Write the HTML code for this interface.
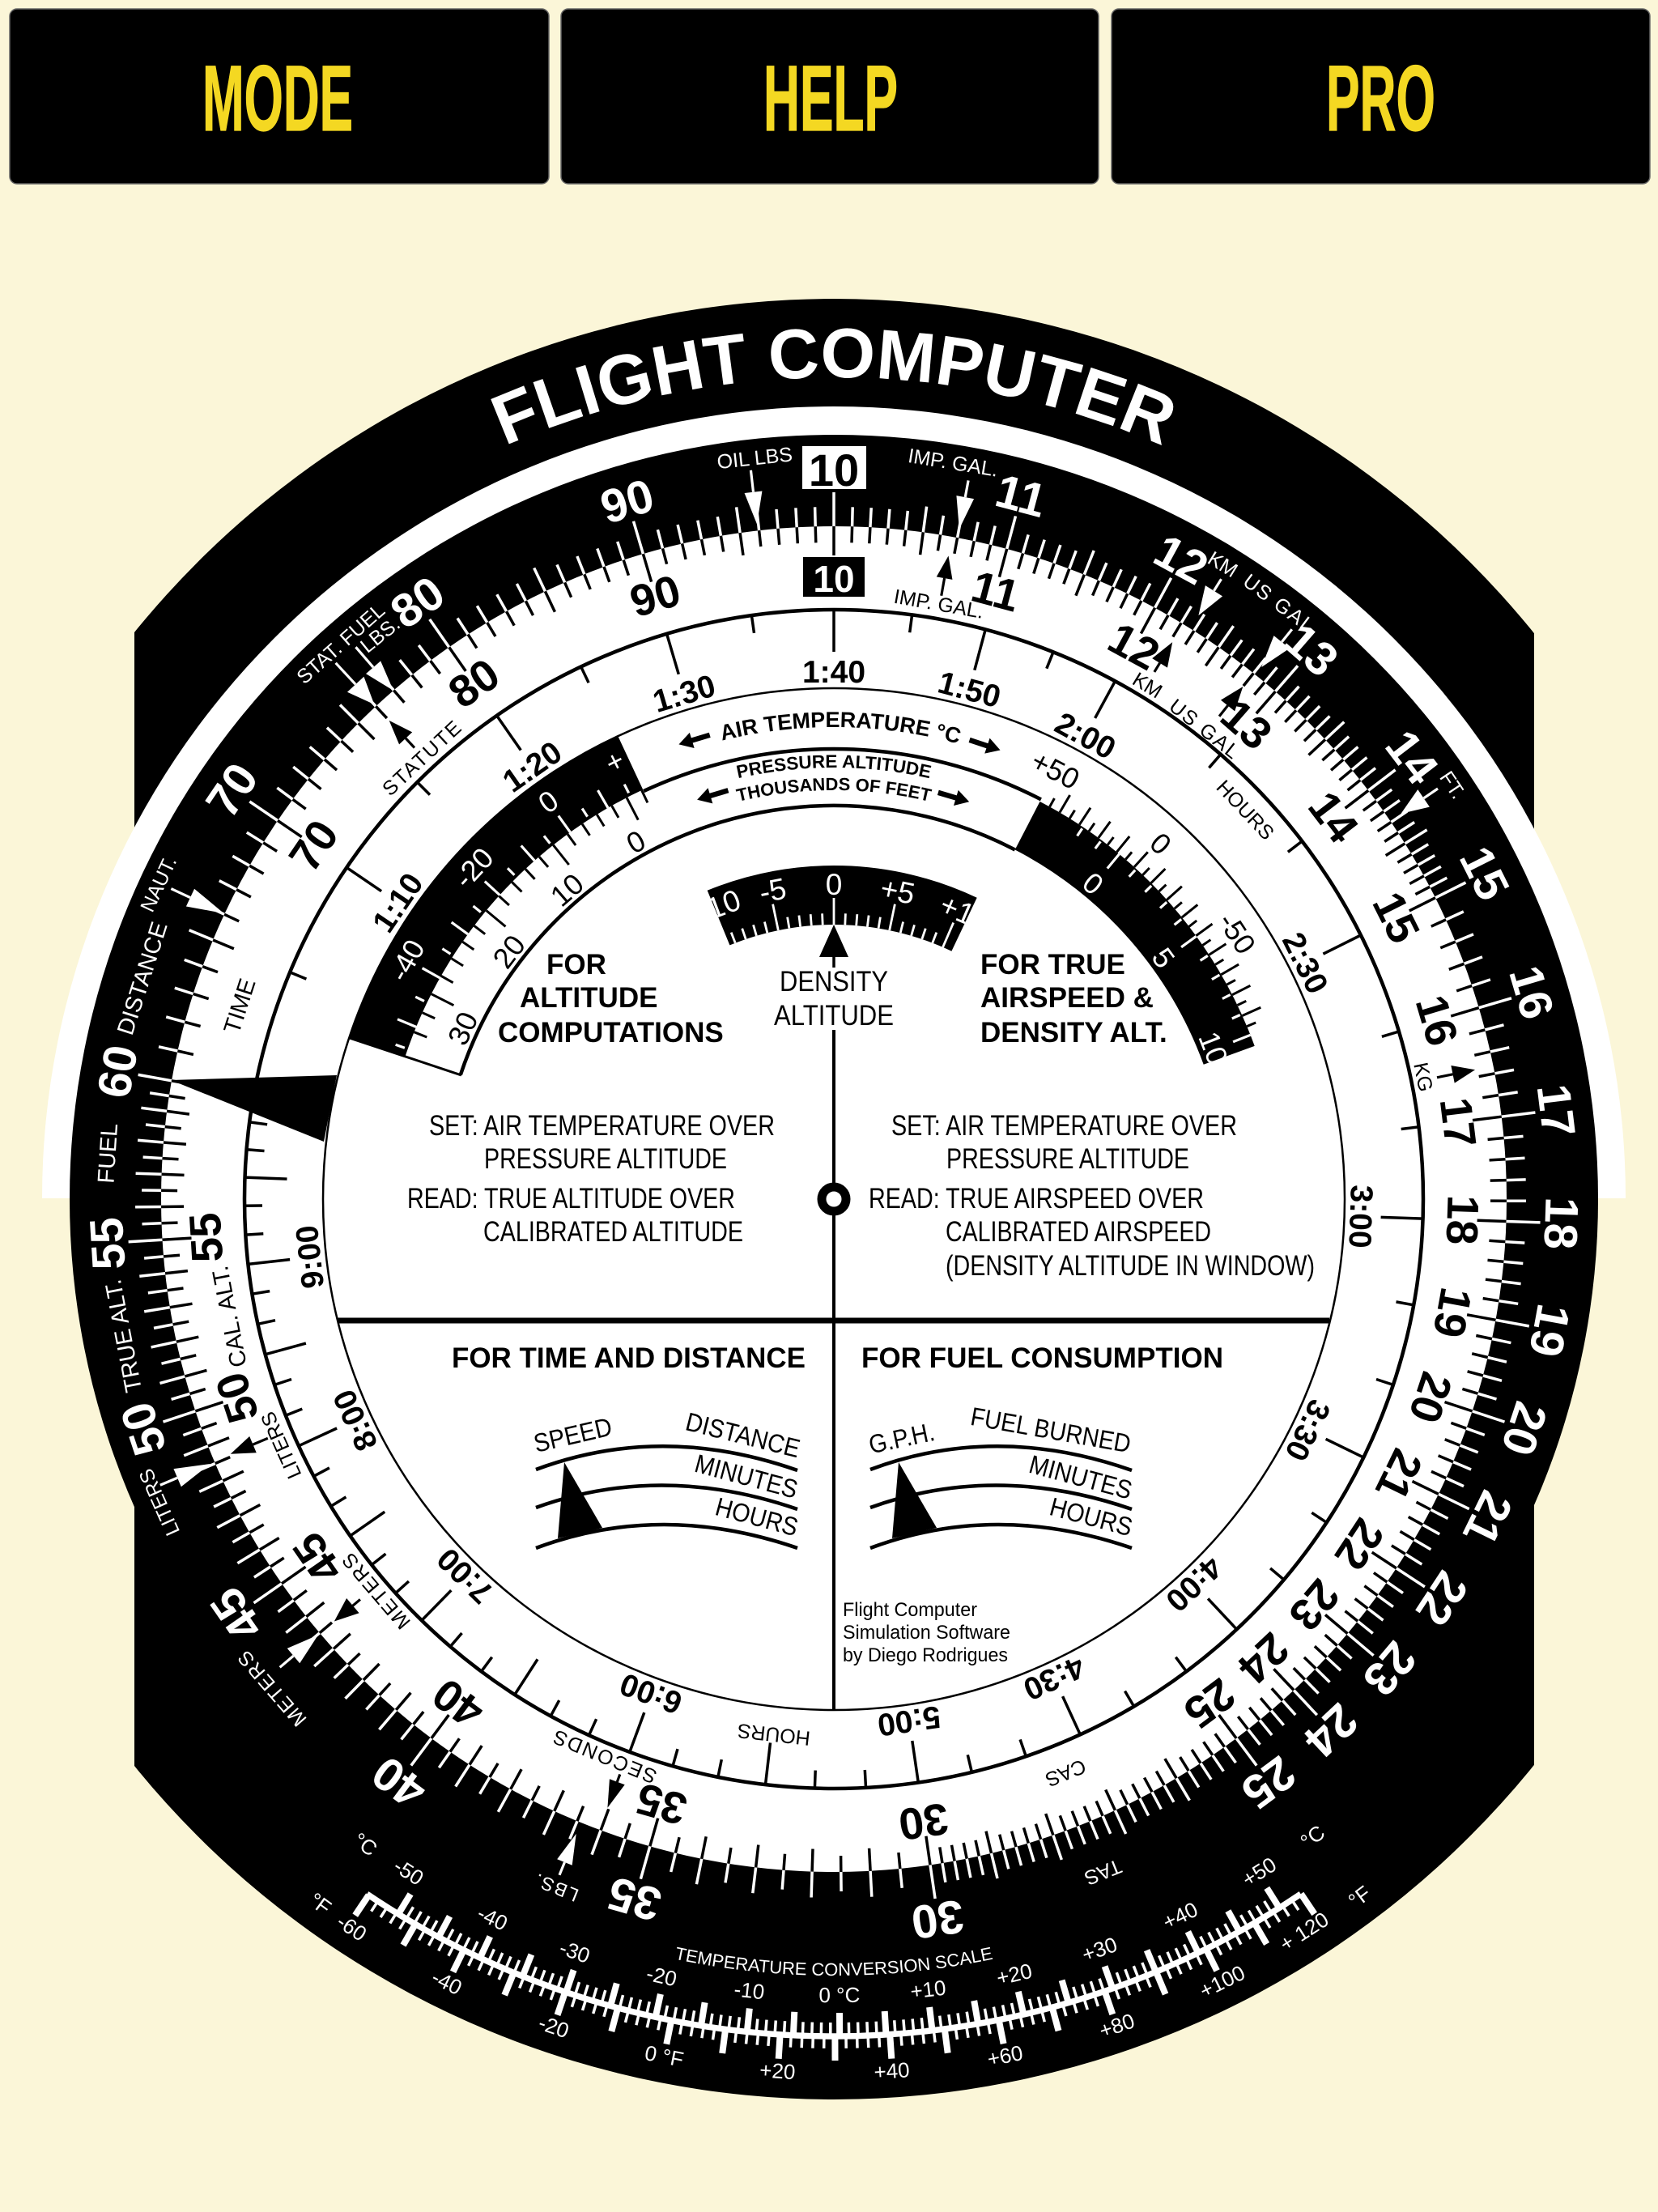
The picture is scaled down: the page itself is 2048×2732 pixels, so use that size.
<!DOCTYPE html>
<html>
<head>
<meta charset="utf-8">
<title>Flight Computer</title>
<style>
html,body{margin:0;padding:0;background:#FBF6D8;}
svg{display:block;font-family:"Liberation Sans",sans-serif;}
text{text-anchor:middle;}
.w{fill:#fff}.k{fill:#000}
.b{font-weight:bold}
.s{font-size:25px}
.m{font-size:29px}
.st{text-anchor:start}
.btn{font-weight:bold;font-size:115px;fill:#F4D822;stroke:#F4D822;stroke-width:1.2px;text-anchor:start}
</style>
</head>
<body>
<svg id="s" xmlns="http://www.w3.org/2000/svg" width="2048" height="2732" viewBox="0 0 2048 2732">
<defs>
<clipPath id="baseclip"><rect x="166" y="0" width="1729" height="2732"/></clipPath>
<clipPath id="rb"><path id="rbp" d=""/></clipPath>
<clipPath id="dw"><path id="dwp" d=""/></clipPath>
<path id="pT" d="M377.6 703.5 A1015 1015 0 0 1 1682.4 703.5"/>
<path id="pA" d="M655.3 1034.4 A583 583 0 0 1 1404.7 1034.4"/>
<path id="pP" d="M687.4 1072.7 A533 533 0 0 1 1372.6 1072.7"/>
<path id="pF" d="M705.4 1094.1 A505 505 0 0 1 1354.6 1094.1"/>
<path id="pC" d="M550.5 2311.5 A959 959 0 0 0 1509.5 2311.5"/>
</defs>
<rect width="2048" height="2732" fill="#FBF6D8"/>

<!-- buttons -->
<rect x="12" y="11" width="666" height="216" rx="9" fill="#000" stroke="#666" stroke-width="1.5"/>
<rect x="693" y="11" width="664" height="216" rx="9" fill="#000" stroke="#666" stroke-width="1.5"/>
<rect x="1373" y="11" width="665" height="216" rx="9" fill="#000" stroke="#666" stroke-width="1.5"/>
<text class="btn" x="250" y="161" textLength="186" lengthAdjust="spacingAndGlyphs">MODE</text>
<text class="btn" x="943" y="161" textLength="166" lengthAdjust="spacingAndGlyphs">HELP</text>
<text class="btn" x="1638" y="161" textLength="135" lengthAdjust="spacingAndGlyphs">PRO</text>

<!-- body -->
<circle cx="1030" cy="1481" r="1112" fill="#000" clip-path="url(#baseclip)"/>
<path d="M52 1480 A978 978 0 0 1 2008 1480 Z" fill="#fff"/>
<circle cx="1030" cy="1481" r="944" fill="#000"/>
<circle cx="1030" cy="1481" r="831" fill="#fff"/>
<circle cx="1030" cy="1481" r="728" fill="#fff" stroke="#000" stroke-width="4.5"/>
<circle cx="1030" cy="1481" r="631" fill="#fff" stroke="#000" stroke-width="2.5"/>
<g id="bands"></g>
<g id="ticks"></g>

<!-- index triangle -->
<path d="M211 1334 L416 1328 L400 1410 Z" fill="#000"/>

<!-- title -->
<text class="w b" font-size="87"><textPath href="#pT" startOffset="50%">FLIGHT COMPUTER</textPath></text>

<!-- box labels -->
<rect x="991" y="551" width="79" height="53" fill="#fff"/>
<rect x="992" y="688" width="76" height="49" fill="#000"/>
<text class="k b" x="1030" y="600" font-size="56">10</text>
<text class="w b" x="1030" y="731" font-size="46">10</text>

<g transform="translate(1030 1481)">
<!-- outer numbers -->
<g class="w b" font-size="58">
<text transform="rotate(14.9)" y="-879">11</text>
<text transform="rotate(28.5)" y="-879">12</text>
<text transform="rotate(41)" y="-879">13</text>
<text transform="rotate(52.6)" y="-879">14</text>
<text transform="rotate(63.4)" y="-879">15</text>
<text transform="rotate(73.5)" y="-879">16</text>
<text transform="rotate(83)" y="-879">17</text>
<text transform="rotate(91.9)" y="-879">18</text>
<text transform="rotate(100.4)" y="-879">19</text>
<text transform="rotate(108.4)" y="-879">20</text>
<text transform="rotate(116)" y="-879">21</text>
<text transform="rotate(123.3)" y="-879">22</text>
<text transform="rotate(130.2)" y="-879">23</text>
<text transform="rotate(136.9)" y="-879">24</text>
<text transform="rotate(143.3)" y="-879">25</text>
<text transform="rotate(171.8)" y="-879">30</text>
<text transform="rotate(195.9)" y="-879">35</text>
<text transform="rotate(216.7)" y="-879">40</text>
<text transform="rotate(235.2)" y="-879">45</text>
<text transform="rotate(251.6)" y="-879">50</text>
<text transform="rotate(266.5)" y="-879">55</text>
<text transform="rotate(280.1)" y="-879">60</text>
<text transform="rotate(304.2)" y="-879">70</text>
<text transform="rotate(325.1)" y="-879">80</text>
<text transform="rotate(343.5)" y="-879">90</text>
</g>
<!-- inner numbers -->
<g class="k b" font-size="55">
<text transform="rotate(14.9)" y="-758">11</text>
<text transform="rotate(28.5)" y="-758">12</text>
<text transform="rotate(41)" y="-758">13</text>
<text transform="rotate(52.6)" y="-758">14</text>
<text transform="rotate(63.4)" y="-758">15</text>
<text transform="rotate(73.5)" y="-758">16</text>
<text transform="rotate(83)" y="-758">17</text>
<text transform="rotate(91.9)" y="-758">18</text>
<text transform="rotate(100.4)" y="-758">19</text>
<text transform="rotate(108.4)" y="-758">20</text>
<text transform="rotate(116)" y="-758">21</text>
<text transform="rotate(123.3)" y="-758">22</text>
<text transform="rotate(130.2)" y="-758">23</text>
<text transform="rotate(136.9)" y="-758">24</text>
<text transform="rotate(143.3)" y="-758">25</text>
<text transform="rotate(171.8)" y="-758">30</text>
<text transform="rotate(195.9)" y="-758">35</text>
<text transform="rotate(216.7)" y="-758">40</text>
<text transform="rotate(235.2)" y="-758">45</text>
<text transform="rotate(251.6)" y="-758">50</text>
<text transform="rotate(266.5)" y="-758">55</text>
<text transform="rotate(304.2)" y="-758">70</text>
<text transform="rotate(325.1)" y="-758">80</text>
<text transform="rotate(343.5)" y="-758">90</text>
</g>
<!-- time labels -->
<g class="k b" font-size="39">
<text transform="rotate(304.2)" y="-638">1:10</text>
<text transform="rotate(325.1)" y="-638">1:20</text>
<text transform="rotate(343.5)" y="-638">1:30</text>
<text y="-638">1:40</text>
<text transform="rotate(14.9)" y="-638">1:50</text>
<text transform="rotate(28.5)" y="-638">2:00</text>
<text transform="rotate(63.4)" y="-638">2:30</text>
<text transform="rotate(91.9)" y="-638">3:00</text>
<text transform="rotate(116)" y="-638">3:30</text>
<text transform="rotate(136.9)" y="-638">4:00</text>
<text transform="rotate(155.3)" y="-638">4:30</text>
<text transform="rotate(171.8)" y="-638">5:00</text>
<text transform="rotate(200.3)" y="-638">6:00</text>
<text transform="rotate(224.4)" y="-638">7:00</text>
<text transform="rotate(245.2)" y="-638">8:00</text>
<text transform="rotate(263.7)" y="-638">9:00</text>
</g>
<!-- outer ring small labels -->
<g class="w s">
<text transform="rotate(-6.1)" y="-912">OIL LBS</text>
<text transform="rotate(9.2)" y="-913">IMP. GAL.</text>
<text transform="rotate(31.5)" y="-911">KM</text>
<text transform="rotate(36.8)" y="-910" letter-spacing="2">US GAL</text>
<text transform="rotate(56.2)" y="-911">FT.</text>
<text transform="rotate(-41.6)" y="-909">STAT. FUEL</text>
<text transform="rotate(-38.8)" y="-886">LBS.</text>
<text transform="rotate(-65)" y="-912">NAUT.</text>
<text class="m" transform="rotate(-72.3)" y="-887">DISTANCE</text>
<text class="m" transform="rotate(-86.4)" y="-889">FUEL</text>
<text class="m" transform="rotate(-100.9)" y="-884">TRUE ALT.</text>
<text transform="rotate(-114.2)" y="-905">LITERS</text>
<text transform="rotate(-131)" y="-912" letter-spacing="2">METERS</text>
<text transform="rotate(-158)" y="-909" letter-spacing="2" font-size="23">LBS.</text>
<text transform="rotate(158.2)" y="-887">TAS</text>
</g>
<!-- inner ring small labels -->
<g class="k s">
<text transform="rotate(10)" y="-738">IMP. GAL.</text>
<text transform="rotate(31.4)" y="-735">KM</text>
<text transform="rotate(38.3)" y="-731" letter-spacing="2">US GAL</text>
<text transform="rotate(78.3)" y="-735">KG</text>
<text transform="rotate(46.6)" y="-691">HOURS</text>
<text transform="rotate(-43)" y="-737" letter-spacing="2">STATUTE</text>
<text class="m" transform="rotate(-72)" y="-762">TIME</text>
<text class="m" transform="rotate(-101)" y="-751">CAL. ALT.</text>
<text transform="rotate(-114)" y="-739">LITERS</text>
<text transform="rotate(-130.5)" y="-736" letter-spacing="2">METERS</text>
<text transform="rotate(-157.6)" y="-736" letter-spacing="2">SECONDS</text>
<text transform="rotate(-173.6)" y="-657">HOURS</text>
<text transform="rotate(158)" y="-756">CAS</text>
</g>
<!-- altitude window labels -->
<g class="k" font-size="36">
<text transform="rotate(331)" y="-492">0</text>
<text transform="rotate(319.2)" y="-492">10</text>
<text transform="rotate(307.3)" y="-492">20</text>
<text transform="rotate(294.7)" y="-492">30</text>
<text transform="rotate(27.3)" y="-584">+50</text>
<text transform="rotate(42.6)" y="-584">0</text>
<text transform="rotate(56.6)" y="-584">-50</text>
</g>
<g class="w" font-size="36">
<text transform="rotate(333.4)" y="-592">+</text>
<text transform="rotate(324.3)" y="-592">0</text>
<text transform="rotate(312.6)" y="-592">-20</text>
<text transform="rotate(299.2)" y="-592">-40</text>
<text transform="rotate(39.4)" y="-492">0</text>
<text transform="rotate(53.8)" y="-492">5</text>
</g>
</g>
<g clip-path="url(#rb)"><text class="w" font-size="36" transform="translate(1030 1481) rotate(68.3)" y="-492">10</text></g>
<g clip-path="url(#dw)" class="w" font-size="37">
<g transform="translate(1030 1481)">
<text transform="rotate(-20.5)" y="-376">10</text>
<text transform="rotate(-11.2)" y="-376">-5</text>
<text y="-376">0</text>
<text transform="rotate(11.7)" y="-376">+5</text>
<text transform="rotate(23.1)" y="-376">+1</text>
</g>
</g>

<!-- curved band captions -->
<text class="k b" font-size="27"><textPath href="#pA" startOffset="51%">AIR TEMPERATURE °C</textPath></text>
<text class="k b" font-size="22.5"><textPath href="#pP" startOffset="50%">PRESSURE ALTITUDE</textPath></text>
<text class="k b" font-size="22"><textPath href="#pF" startOffset="50%">THOUSANDS OF FEET</textPath></text>

<!-- density altitude -->
<path d="M1030 1142 L1048 1182 L1012 1182 Z" fill="#000"/>
<line x1="1030" y1="1180" x2="1030" y2="1195" stroke="#000" stroke-width="3.5"/>
<line x1="1030" y1="1272" x2="1030" y2="2112" stroke="#000" stroke-width="4"/>
<text class="k" x="1030" y="1224" font-size="35" textLength="134" lengthAdjust="spacingAndGlyphs">DENSITY</text>
<text class="k" x="1030" y="1266" font-size="35" textLength="148" lengthAdjust="spacingAndGlyphs">ALTITUDE</text>
<circle cx="1030" cy="1481" r="15" fill="#fff" stroke="#000" stroke-width="11"/>
<line x1="417" y1="1631" x2="1642" y2="1631" stroke="#000" stroke-width="7"/>

<!-- headings -->
<g class="k b st" font-size="35">
<text class="st" x="675" y="1203">FOR</text>
<text class="st" x="642" y="1244">ALTITUDE</text>
<text class="st" x="615" y="1287">COMPUTATIONS</text>
<text class="st" x="1211" y="1203">FOR TRUE</text>
<text class="st" x="1211" y="1244">AIRSPEED &amp;</text>
<text class="st" x="1211" y="1287">DENSITY ALT.</text>
<text class="st" x="558" y="1689" textLength="437" lengthAdjust="spacingAndGlyphs">FOR TIME AND DISTANCE</text>
<text class="st" x="1064" y="1689" textLength="447" lengthAdjust="spacingAndGlyphs">FOR FUEL CONSUMPTION</text>
</g>
<g class="k" font-size="35">
<text class="st" x="530" y="1402" textLength="427" lengthAdjust="spacingAndGlyphs">SET: AIR TEMPERATURE OVER</text>
<text class="st" x="598" y="1443" textLength="300" lengthAdjust="spacingAndGlyphs">PRESSURE ALTITUDE</text>
<text class="st" x="503" y="1492" textLength="405" lengthAdjust="spacingAndGlyphs">READ: TRUE ALTITUDE OVER</text>
<text class="st" x="597" y="1533" textLength="321" lengthAdjust="spacingAndGlyphs">CALIBRATED ALTITUDE</text>
<text class="st" x="1101" y="1402" textLength="427" lengthAdjust="spacingAndGlyphs">SET: AIR TEMPERATURE OVER</text>
<text class="st" x="1169" y="1443" textLength="300" lengthAdjust="spacingAndGlyphs">PRESSURE ALTITUDE</text>
<text class="st" x="1073" y="1492" textLength="414" lengthAdjust="spacingAndGlyphs">READ: TRUE AIRSPEED OVER</text>
<text class="st" x="1168" y="1533" textLength="328" lengthAdjust="spacingAndGlyphs">CALIBRATED AIRSPEED</text>
<text class="st" x="1168" y="1575" textLength="456" lengthAdjust="spacingAndGlyphs">(DENSITY ALTITUDE IN WINDOW)</text>
</g>

<!-- small slide diagrams -->
<g fill="none" stroke="#000" stroke-width="4.5">
<path d="M662 1815 Q817 1757 985 1816"/>
<path d="M662 1862 Q817 1806 985 1864"/>
<path d="M662 1912 Q817 1854 985 1912"/>
<path d="M1075 1815 Q1230 1757 1398 1816"/>
<path d="M1075 1862 Q1230 1806 1398 1864"/>
<path d="M1075 1912 Q1230 1854 1398 1912"/>
</g>
<path d="M697 1806 L689 1900 L744 1887 Z" fill="#000"/>
<path d="M1110 1806 L1102 1900 L1157 1887 Z" fill="#000"/>
<g class="k" font-size="32">
<text transform="rotate(-13 710 1783)" x="710" y="1783" textLength="98" lengthAdjust="spacingAndGlyphs">SPEED</text>
<text transform="rotate(14 915 1783)" x="915" y="1783" textLength="144" lengthAdjust="spacingAndGlyphs">DISTANCE</text>
<text transform="rotate(15 919 1834)" x="919" y="1834" textLength="130" lengthAdjust="spacingAndGlyphs">MINUTES</text>
<text transform="rotate(15 932 1884)" x="932" y="1884" textLength="104" lengthAdjust="spacingAndGlyphs">HOURS</text>
<text transform="rotate(-12 1116 1787)" x="1116" y="1787" textLength="82" lengthAdjust="spacingAndGlyphs">G.P.H.</text>
<text transform="rotate(10 1296 1777)" x="1296" y="1777" textLength="200" lengthAdjust="spacingAndGlyphs">FUEL BURNED</text>
<text transform="rotate(15 1332 1835)" x="1332" y="1835" textLength="130" lengthAdjust="spacingAndGlyphs">MINUTES</text>
<text transform="rotate(15 1345 1884)" x="1345" y="1884" textLength="104" lengthAdjust="spacingAndGlyphs">HOURS</text>
</g>
<g class="k" font-size="24">
<text class="st" x="1041" y="1996" textLength="166" lengthAdjust="spacingAndGlyphs">Flight Computer</text>
<text class="st" x="1041" y="2024" textLength="207" lengthAdjust="spacingAndGlyphs">Simulation Software</text>
<text class="st" x="1041" y="2052" textLength="204" lengthAdjust="spacingAndGlyphs">by Diego Rodrigues</text>
</g>

<!-- temperature scale labels -->
<text class="w" font-size="22"><textPath href="#pC" startOffset="50%">TEMPERATURE CONVERSION SCALE</textPath></text>
<g transform="translate(1030 1481)" class="w" font-size="26">
<text transform="rotate(32.3)" y="992">-50</text>
<text transform="rotate(25.4)" y="992">-40</text>
<text transform="rotate(19)" y="992">-30</text>
<text transform="rotate(12.5)" y="992">-20</text>
<text transform="rotate(6.1)" y="992">-10</text>
<text transform="rotate(-0.4)" y="992">0 °C</text>
<text transform="rotate(-6.8)" y="992">+10</text>
<text transform="rotate(-13.1)" y="992">+20</text>
<text transform="rotate(-19.5)" y="992">+30</text>
<text transform="rotate(-25.8)" y="992">+40</text>
<text transform="rotate(-32.3)" y="992">+50</text>
<text transform="rotate(36)" y="994">°C</text>
<text transform="rotate(-36.9)" y="994">°C</text>
<text transform="rotate(33.5)" y="1088">-60</text>
<text transform="rotate(26.3)" y="1088">-40</text>
<text transform="rotate(18.7)" y="1088">-20</text>
<text transform="rotate(11.2)" y="1088">0 °F</text>
<text transform="rotate(3.7)" y="1088">+20</text>
<text transform="rotate(-3.8)" y="1088">+40</text>
<text transform="rotate(-11.3)" y="1088">+60</text>
<text transform="rotate(-18.9)" y="1088">+80</text>
<text transform="rotate(-26.4)" y="1088">+100</text>
<text transform="rotate(-32.7)" y="1084">+ 120</text>
<text transform="rotate(36.1)" y="1086">°F</text>
<text transform="rotate(-37)" y="1088">°F</text>
</g>
<g id="arrows"></g>

<script>
(function(){
var NS="http://www.w3.org/2000/svg",cx=1030,cy=1481;
var T=document.getElementById("ticks"),B=document.getElementById("bands"),Ar=document.getElementById("arrows");
function P(a,r){var t=a*Math.PI/180;return [cx+r*Math.sin(t),cy-r*Math.cos(t)];}
function el(p,n,o){var e=document.createElementNS(NS,n);for(var k in o)e.setAttribute(k,o[k]);p.appendChild(e);return e;}
function L(a,r1,r2,c,w){var A=P(a,r1),C=P(a,r2);el(T,"line",{x1:A[0].toFixed(1),y1:A[1].toFixed(1),x2:C[0].toFixed(1),y2:C[1].toFixed(1),stroke:c,"stroke-width":w});}
function f(n){return n.toFixed(1);}
function sector(r1,r2,a1,a2){var A=P(a1,r2),C=P(a2,r2),D=P(a2,r1),E=P(a1,r1);var big=(a2-a1)>180?1:0;
return "M"+f(A[0])+" "+f(A[1])+" A"+r2+" "+r2+" 0 "+big+" 1 "+f(C[0])+" "+f(C[1])+" L"+f(D[0])+" "+f(D[1])+" A"+r1+" "+r1+" 0 "+big+" 0 "+f(E[0])+" "+f(E[1])+" Z";}
function arc(r,a1,a2,w){var A=P(a1,r),C=P(a2,r);el(B,"path",{d:"M"+f(A[0])+" "+f(A[1])+" A"+r+" "+r+" 0 0 1 "+f(C[0])+" "+f(C[1]),fill:"none",stroke:"#000","stroke-width":w});}
// bands
el(B,"path",{d:sector(558,631,288.5,335),fill:"#000"});
el(B,"path",{d:sector(486,553,27.4,70),fill:"#000"});
el(B,"path",{d:sector(339,412,-22.3,25.4),fill:"#000"});
document.getElementById("rbp").setAttribute("d",sector(486,553,27.4,70));
document.getElementById("dwp").setAttribute("d",sector(339,412,-22.3,25.4));
arc(556,-25,27.4,4.5);
arc(486,-71.6,27.4,4.5);
var a=P(288.4,631),b=P(288.4,485);
el(B,"line",{x1:a[0],y1:a[1],x2:b[0],y2:b[1],stroke:"#000","stroke-width":3});
// main log scale
function th(v){return 360*Math.log10(v/10);}
for(var i=100;i<1000;){
 var step,lvl=0,v=i;
 if(v<150){step=1;if(v%10==0)lvl=2;else if(v%5==0)lvl=1;}
 else if(v<250){step=2;if(v%10==0)lvl=2;}
 else if(v<300){step=2;if(v==250)lvl=2;else if(v%10==0)lvl=1;}
 else if(v<600){step=5;if(v%50==0)lvl=2;else if(v%10==0)lvl=1;}
 else {step=10;if(v%100==0)lvl=2;else if(v%50==0)lvl=1;}
 var an=th(v/10),o=[24,32,42][lvl],n=[20,28,36][lvl];
 L(an,831,831+o,"#fff",3.5);
 L(an,831,831-n,"#000",3.5);
 i+=step;
}
// time scale
for(var t=65;t<600;){
 var lng=(t<=120&&t%10==0)||t%30==0;
 L(th(t),728,728-(lng?52:22),"#000",3.5);
 t+=t<120?5:10;
}
// left band: temperature (white)
[330,324.3,318.5,312.3,305.9,299.3,292.4].forEach(function(x){L(x,558,583,"#fff",3.2);});
[333.2,327.2,321.4,315.4,309.1,302.6,295.8,289.4].forEach(function(x){L(x,562,574,"#fff",3.2);});
// left band: altitude (black)
for(var k=-2;k<=34;k+=2){var an3=332.7-1.07*k-0.004*k*k;if(an3<289)continue;L(an3,558,558-(k%10==0?31:17),"#000",3);}
// right band: temperature (black, outward)
for(var d=-1;d<=25;d++){var an4=30.3+d*1.48;L(an4,553,553+(d%2==0?25:12),"#000",3);}
// right band: altitude (white, inward)
for(var e=-2;e<=10;e++){var an5=39.6+e*2.89;if(e%5==0)L(an5,553,530,"#fff",3.2);else L(an5,551,540,"#fff",3.2);}
// density ticks
for(var q=-9;q<=10;q++){var an6=q*2.34;if(an6<-21.5||an6>24.5)continue;L(an6,339,339+(q%5==0?33:14),"#fff",2.8);}
// temperature conversion
for(var g=-50;g<=50;g++){var aa=0.4+0.635*g;var thick=g%5==0;L(180-aa,1034,1034-(thick?29:17),"#fff",thick?8:3.5);}
for(var h=-60;h<=120;h+=2){var ab=-11.2+0.376*h;var th2=h%10==0;L(180-ab,1034,1034+(th2?30:15),"#fff",th2?8:3.5);}
el(T,"path",{d:(function(){var A=P(180+33.9,1034),C=P(180-33.9,1034);return "M"+f(A[0])+" "+f(A[1])+" A1034 1034 0 0 0 "+f(C[0])+" "+f(C[1]);})(),fill:"none",stroke:"#fff","stroke-width":7.5});
// arrows: angle, tipR, tailR, colour, head length, head width
var arrows=[
[-6.5,839,906,"#fff",40,22],[10.6,842,903,"#fff",40,22],[32,850,903,"#fff",36,25],[38.8,843,903,"#fff",40,25],[55.8,847,902,"#fff",34,26],
[-42.9,834,904,"#fff",34,28],[-40.9,831,902,"#fff",38,24],[-64.9,832,904,"#fff",46,24],[-113,837,904,"#fff",44,24],[-130.2,834,896,"#fff",40,24],[-157.9,846,901,"#fff",38,20],
[10.1,807,757,"#000",28,20],[31.3,805,762,"#000",30,22],[38.6,810,763,"#000",30,22],[78.6,808,760,"#000",28,22],[-42.9,807,761,"#000",30,22],
[-112.9,809,759,"#000",30,22],[-130.2,808,766,"#000",30,24],[-159.6,802,758,"#000",34,20]];
arrows.forEach(function(x){var an=x[0],tip=x[1],tail=x[2],col=x[3],hl=x[4],hw=x[5];var dir=tail>tip?1:-1;var baseR=tip+dir*hl;var w=hw/2/baseR*180/Math.PI;
 var A=P(an,tip),C=P(an-w,baseR),D=P(an+w,baseR),E=P(an,baseR),F=P(an,tail);
 el(Ar,"line",{x1:E[0],y1:E[1],x2:F[0],y2:F[1],stroke:col,"stroke-width":3.2});
 el(Ar,"path",{d:"M"+A[0]+" "+A[1]+" L"+C[0]+" "+C[1]+" L"+D[0]+" "+D[1]+" Z",fill:col});
});
// thick band arrows: angle, radius, direction
[[-16.9,593,-1],[18.4,591,1],[-16.7,521,-1],[16.6,518,1]].forEach(function(x){var g=el(Ar,"g",{transform:"translate("+cx+" "+cy+") rotate("+x[0]+") translate(0 "+(-x[1])+") scale("+x[2]+" 1)"});
 el(g,"path",{d:"M-20 -3.2 L3 -3.2 L3 -10 L20 0 L3 10 L3 3.2 L-20 3.2 Z",fill:"#000"});
});
})();
</script>
</svg>
</body>
</html>
